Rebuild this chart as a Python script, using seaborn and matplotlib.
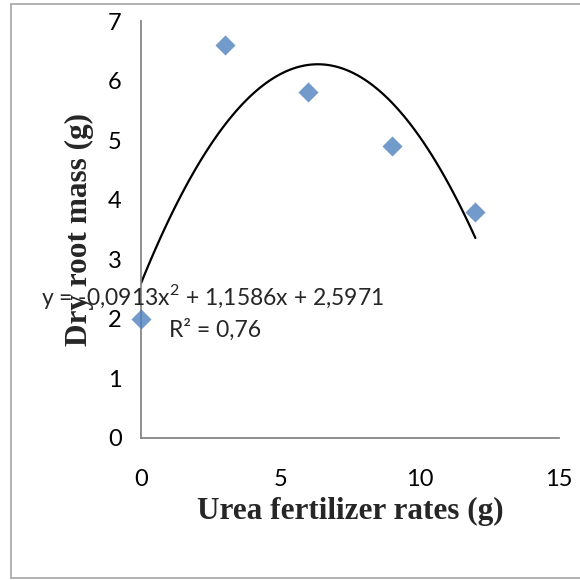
import numpy as np
import pandas as pd
import matplotlib
matplotlib.use("Agg")
import matplotlib.pyplot as plt
import seaborn as sns
from matplotlib.lines import Line2D

urea_rates = [0, 3, 6, 9, 12]
dry_root_mass = [2.0, 6.6, 5.8, 4.9, 3.8]
x_ticks = [0, 5, 10, 15]
y_ticks = [0, 1, 2, 3, 4, 5, 6, 7]
equation_text = "y = -0,0913x$^2$ + 1,1586x + 2,5971"
r2_text = "R² = 0,76"
x_label = "Urea fertilizer rates (g)"
y_label = "Dry root mass (g)"

df = pd.DataFrame({"x": urea_rates, "y": dry_root_mass})

sns.set_style("white")
plt.rcParams["font.family"] = ["Lato", "DejaVu Sans"]
plt.rcParams["mathtext.fontset"] = "custom"
plt.rcParams["mathtext.rm"] = "Lato"

fig = plt.figure(figsize=(5.8, 5.8), dpi=100)
ax = fig.add_axes([141/580, 1-438/580, (559-141)/580, (438-21)/580])

sns.regplot(data=df, x="x", y="y", order=2, ci=None, ax=ax,
            marker="D", color="#4F81BD",
            scatter_kws={"s": 105, "color": "#4F81BD", "zorder": 3, "linewidths": 0},
            line_kws={"color": "black", "lw": 1.6, "zorder": 2})

ax.set_xlim(0, 15)
ax.set_ylim(0, 7)
ax.set_xticks(x_ticks)
ax.set_yticks(y_ticks)
ax.set_xticklabels([str(v) for v in x_ticks])
ax.set_yticklabels([str(v) for v in y_ticks])

for s in ["top", "right"]:
    ax.spines[s].set_visible(False)
for s in ["left", "bottom"]:
    ax.spines[s].set_color("#868686")
    ax.spines[s].set_linewidth(1.3)
ax.tick_params(axis="both", which="major", direction="out", length=6,
               width=1.3, color="#868686", labelsize=17, labelcolor="black")
ax.tick_params(axis="y", pad=8)
ax.tick_params(axis="x", pad=16)
for c in ax.collections:
    c.set_clip_on(False)

ax.set_xlabel(x_label, fontfamily="Liberation Serif", fontweight="bold", fontsize=22.5)
ax.set_ylabel(y_label, fontfamily="Liberation Serif", fontweight="bold", fontsize=22.5)
ax.xaxis.set_label_coords(0.5, -0.142)
ax.yaxis.set_label_coords(-0.113, 0.5)

ax.text(2.58, 2.37, equation_text, fontsize=16.5, ha="center", va="center", zorder=5)
ax.text(2.65, 1.81, r2_text, fontsize=16.5, ha="center", va="center", zorder=5)

# outer frame lines
fig.add_artist(Line2D([11/580, 11/580], [1-4/580, 1-578/580], color="#A6A6A6", lw=1.2))
fig.add_artist(Line2D([11/580, 1.0], [1-4/580, 1-4/580], color="#A6A6A6", lw=1.2))
fig.add_artist(Line2D([11/580, 1.0], [1-578/580, 1-578/580], color="#A6A6A6", lw=1.2))

fig.savefig("out.png", dpi=100)
